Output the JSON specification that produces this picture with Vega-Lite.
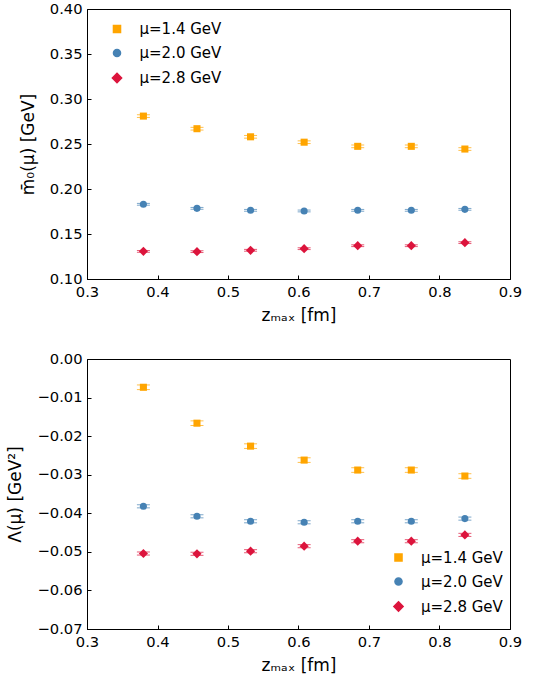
{
  "$schema": "https://vega.github.io/schema/vega-lite/v6.json",
  "background": "white",
  "padding": {"left": 6, "top": 0, "right": 12, "bottom": 5},
  "bounds": "flush",
  "spacing": 80,
  "config": {
    "font": "DejaVu Sans",
    "view": {"stroke": "black", "strokeWidth": 1},
    "axis": {
      "domainColor": "black", "tickColor": "black", "labelColor": "black", "titleColor": "black",
      "labelFont": "DejaVu Sans", "titleFont": "DejaVu Sans",
      "labelFontSize": 14.7, "titleFontSize": 17, "titleFontWeight": "normal",
      "grid": false, "tickSize": -4, "labelPadding": 9, "titlePadding": 9,
      "labelOverlap": false, "labelFlush": false, "labelBound": false
    },
    "axisY": {"titlePadding": 12},
    "legend": {
      "labelFont": "DejaVu Sans", "labelFontSize": 15, "labelColor": "black",
      "symbolSize": 50, "rowPadding": 8, "symbolOpacity": 1, "labelOffset": 15
    }
  },
  "datasets": {
    "m0": [
      {"z": 0.380, "mu": "μ=1.4 GeV", "val": 0.2810, "err": 0.0015},
      {"z": 0.456, "mu": "μ=1.4 GeV", "val": 0.2670, "err": 0.0015},
      {"z": 0.532, "mu": "μ=1.4 GeV", "val": 0.2580, "err": 0.0015},
      {"z": 0.608, "mu": "μ=1.4 GeV", "val": 0.2520, "err": 0.0015},
      {"z": 0.684, "mu": "μ=1.4 GeV", "val": 0.2474, "err": 0.0015},
      {"z": 0.760, "mu": "μ=1.4 GeV", "val": 0.2474, "err": 0.0015},
      {"z": 0.836, "mu": "μ=1.4 GeV", "val": 0.2444, "err": 0.0015},
      {"z": 0.380, "mu": "μ=2.0 GeV", "val": 0.1830, "err": 0.0010},
      {"z": 0.456, "mu": "μ=2.0 GeV", "val": 0.1785, "err": 0.0010},
      {"z": 0.532, "mu": "μ=2.0 GeV", "val": 0.1763, "err": 0.0010},
      {"z": 0.608, "mu": "μ=2.0 GeV", "val": 0.1756, "err": 0.0010},
      {"z": 0.684, "mu": "μ=2.0 GeV", "val": 0.1763, "err": 0.0010},
      {"z": 0.760, "mu": "μ=2.0 GeV", "val": 0.1763, "err": 0.0010},
      {"z": 0.836, "mu": "μ=2.0 GeV", "val": 0.1774, "err": 0.0010},
      {"z": 0.380, "mu": "μ=2.8 GeV", "val": 0.1307, "err": 0.0010},
      {"z": 0.456, "mu": "μ=2.8 GeV", "val": 0.1304, "err": 0.0010},
      {"z": 0.532, "mu": "μ=2.8 GeV", "val": 0.1319, "err": 0.0010},
      {"z": 0.608, "mu": "μ=2.8 GeV", "val": 0.1337, "err": 0.0010},
      {"z": 0.684, "mu": "μ=2.8 GeV", "val": 0.1370, "err": 0.0010},
      {"z": 0.760, "mu": "μ=2.8 GeV", "val": 0.1370, "err": 0.0010},
      {"z": 0.836, "mu": "μ=2.8 GeV", "val": 0.1404, "err": 0.0010}
    ],
    "lam": [
      {"z": 0.380, "mu": "μ=1.4 GeV", "val": -0.00733, "err": 0.0006},
      {"z": 0.456, "mu": "μ=1.4 GeV", "val": -0.01664, "err": 0.0006},
      {"z": 0.532, "mu": "μ=1.4 GeV", "val": -0.02259, "err": 0.0006},
      {"z": 0.608, "mu": "μ=1.4 GeV", "val": -0.02621, "err": 0.0006},
      {"z": 0.684, "mu": "μ=1.4 GeV", "val": -0.02879, "err": 0.0006},
      {"z": 0.760, "mu": "μ=1.4 GeV", "val": -0.02879, "err": 0.0006},
      {"z": 0.836, "mu": "μ=1.4 GeV", "val": -0.03034, "err": 0.0006},
      {"z": 0.380, "mu": "μ=2.0 GeV", "val": -0.03819, "err": 0.0004},
      {"z": 0.456, "mu": "μ=2.0 GeV", "val": -0.04078, "err": 0.0004},
      {"z": 0.532, "mu": "μ=2.0 GeV", "val": -0.04207, "err": 0.0004},
      {"z": 0.608, "mu": "μ=2.0 GeV", "val": -0.04233, "err": 0.0004},
      {"z": 0.684, "mu": "μ=2.0 GeV", "val": -0.04207, "err": 0.0004},
      {"z": 0.760, "mu": "μ=2.0 GeV", "val": -0.04207, "err": 0.0004},
      {"z": 0.836, "mu": "μ=2.0 GeV", "val": -0.04138, "err": 0.0004},
      {"z": 0.380, "mu": "μ=2.8 GeV", "val": -0.05043, "err": 0.0004},
      {"z": 0.456, "mu": "μ=2.8 GeV", "val": -0.05050, "err": 0.0004},
      {"z": 0.532, "mu": "μ=2.8 GeV", "val": -0.04983, "err": 0.0004},
      {"z": 0.608, "mu": "μ=2.8 GeV", "val": -0.04853, "err": 0.0004},
      {"z": 0.684, "mu": "μ=2.8 GeV", "val": -0.04724, "err": 0.0004},
      {"z": 0.760, "mu": "μ=2.8 GeV", "val": -0.04724, "err": 0.0004},
      {"z": 0.836, "mu": "μ=2.8 GeV", "val": -0.04560, "err": 0.0004}
    ]
  },
  "vconcat": [
    {
      "width": 423, "height": 270,
      "data": {"name": "m0"},
      "encoding": {
        "x": {"field": "z", "type": "quantitative",
              "scale": {"domain": [0.3, 0.9], "nice": false, "zero": false},
              "axis": {"values": [0.3, 0.4, 0.5, 0.6, 0.7, 0.8, 0.9], "format": ".1f", "title": "zₘₐₓ [fm]", "labelOverlap": false}},
        "y": {"field": "val", "type": "quantitative",
              "scale": {"domain": [0.10, 0.40], "nice": false, "zero": false},
              "axis": {"values": [0.10, 0.15, 0.20, 0.25, 0.30, 0.35, 0.40], "format": ".2f", "title": "m̄₀(μ) [GeV]", "labelOverlap": false}},
        "color": {"field": "mu", "type": "nominal",
                  "scale": {"domain": ["μ=1.4 GeV", "μ=2.0 GeV", "μ=2.8 GeV"], "range": ["#FFA500", "#4682B4", "#DC143C"]}}
      },
      "layer": [
        {
          "mark": {"type": "errorbar", "ticks": true, "size": 13, "thickness": 1},
          "encoding": {
            "yError": {"field": "err"}
          }
        },
        {
          "mark": {"type": "point", "filled": true, "opacity": 1, "size": 50},
          "encoding": {
            "shape": {"field": "mu", "type": "nominal",
                      "scale": {"domain": ["μ=1.4 GeV", "μ=2.0 GeV", "μ=2.8 GeV"], "range": ["square", "circle", "M0,-1.3L1.3,0L0,1.3L-1.3,0Z"]},
                      "legend": {"title": null, "orient": "none", "legendX": 22.5, "legendY": 12.5}},
            "color": {"field": "mu", "type": "nominal",
                      "legend": {"title": null, "orient": "none", "legendX": 22.5, "legendY": 12.5}}
          }
        }
      ]
    },
    {
      "width": 423, "height": 270,
      "data": {"name": "lam"},
      "encoding": {
        "x": {"field": "z", "type": "quantitative",
              "scale": {"domain": [0.3, 0.9], "nice": false, "zero": false},
              "axis": {"values": [0.3, 0.4, 0.5, 0.6, 0.7, 0.8, 0.9], "format": ".1f", "title": "zₘₐₓ [fm]", "labelOverlap": false}},
        "y": {"field": "val", "type": "quantitative",
              "scale": {"domain": [-0.07, 0.0], "nice": false, "zero": false},
              "axis": {"values": [-0.07, -0.06, -0.05, -0.04, -0.03, -0.02, -0.01, 0.0], "format": ".2f", "title": "Λ(μ) [GeV²]", "labelOverlap": false}},
        "color": {"field": "mu", "type": "nominal",
                  "scale": {"domain": ["μ=1.4 GeV", "μ=2.0 GeV", "μ=2.8 GeV"], "range": ["#FFA500", "#4682B4", "#DC143C"]}}
      },
      "layer": [
        {
          "mark": {"type": "errorbar", "ticks": true, "size": 13, "thickness": 1},
          "encoding": {
            "yError": {"field": "err"}
          }
        },
        {
          "mark": {"type": "point", "filled": true, "opacity": 1, "size": 50},
          "encoding": {
            "shape": {"field": "mu", "type": "nominal",
                      "scale": {"domain": ["μ=1.4 GeV", "μ=2.0 GeV", "μ=2.8 GeV"], "range": ["square", "circle", "M0,-1.3L1.3,0L0,1.3L-1.3,0Z"]},
                      "legend": {"title": null, "orient": "none", "legendX": 304, "legendY": 191}},
            "color": {"field": "mu", "type": "nominal",
                      "legend": {"title": null, "orient": "none", "legendX": 304, "legendY": 191}}
          }
        }
      ]
    }
  ],
  "resolve": {"scale": {"color": "independent", "shape": "independent"}}
}
